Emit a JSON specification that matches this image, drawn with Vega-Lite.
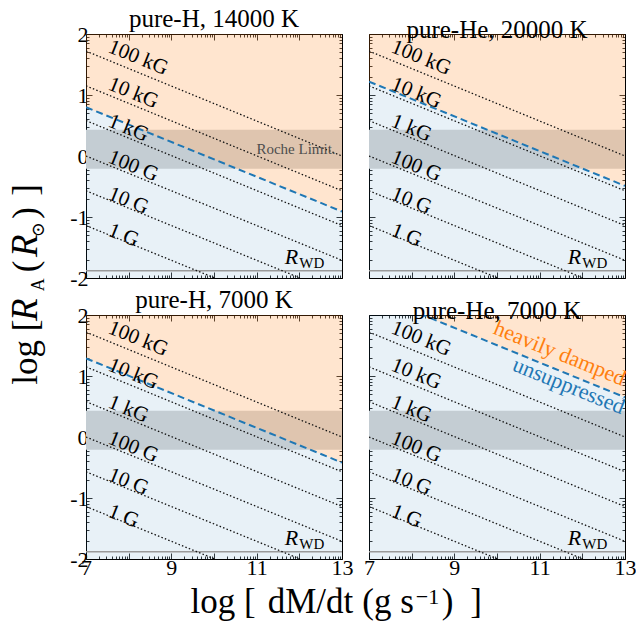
{
  "$schema": "https://vega.github.io/schema/vega-lite/v6.json",
  "background": "white",
  "padding": {"left": 6, "top": 7, "right": 5, "bottom": 5},
  "config": {
    "view": {"stroke": null},
    "axis": {"grid": false, "domainColor": "#000000", "domainWidth": 1, "tickColor": "#000000", "tickWidth": 0.8, "labelFont": "Liberation Serif, DejaVu Serif, serif", "labelFontSize": 22, "labelColor": "#000000", "labelPadding": 4, "labelFlush": false, "labelOverlap": false, "zindex": 1},
    "title": {"font": "Liberation Serif, DejaVu Serif, serif", "fontSize": 25, "fontWeight": "normal", "color": "#000000", "offset": -9, "baseline": "alphabetic", "frame": "group", "anchor": "middle"},
    "text": {"font": "Liberation Serif, DejaVu Serif, serif", "color": "#000000"}
  },
  "datasets": {
    "band": [{"lo": -0.21, "hi": 0.43}],
    "rwd": [{"y": -1.88}],
    "rwdR": [{"label": "R", "x": 11.66, "y": -1.77}],
    "rwdSub": [{"label": "WD", "x": 12.0, "y": -1.83}],
    "fieldlines": [
      {"B": "100 kG", "x": 7, "y": 1.72}, {"B": "100 kG", "x": 13, "y": 0.0},
      {"B": "10 kG", "x": 7, "y": 1.15}, {"B": "10 kG", "x": 13, "y": -0.57},
      {"B": "1 kG", "x": 7, "y": 0.58}, {"B": "1 kG", "x": 13, "y": -1.14},
      {"B": "100 G", "x": 7, "y": 0.0}, {"B": "100 G", "x": 13, "y": -1.71},
      {"B": "10 G", "x": 7, "y": -0.57}, {"B": "10 G", "x": 13, "y": -2.28},
      {"B": "1 G", "x": 7, "y": -1.14}, {"B": "1 G", "x": 13, "y": -2.85}
    ],
    "fieldlabels": [
      {"label": "100 kG", "x": 7.49, "y": 1.71},
      {"label": "10 kG", "x": 7.49, "y": 1.10},
      {"label": "1 kG", "x": 7.49, "y": 0.49},
      {"label": "100 G", "x": 7.49, "y": -0.10},
      {"label": "10 G", "x": 7.49, "y": -0.70},
      {"label": "1 G", "x": 7.49, "y": -1.30}
    ],
    "boundary": [
      {"panel": "TL", "x": 7, "y": 0.80}, {"panel": "TL", "x": 13, "y": -0.91},
      {"panel": "TR", "x": 7, "y": 1.22}, {"panel": "TR", "x": 13, "y": -0.49},
      {"panel": "BL", "x": 7, "y": 1.29}, {"panel": "BL", "x": 13, "y": -0.42},
      {"panel": "BR", "x": 7, "y": 2.36}, {"panel": "BR", "x": 13, "y": 0.65}
    ],
    "ytitleMain": [
      {"t": "log [", "x": 5.845, "y": -3.216},
      {"t": "(", "x": 5.845, "y": -1.809},
      {"t": ")", "x": 5.845, "y": -0.933},
      {"t": "]", "x": 5.845, "y": -0.556}
    ],
    "ytitleItal": [
      {"t": "R", "x": 5.845, "y": -2.52},
      {"t": "R", "x": 5.845, "y": -1.47}
    ],
    "ytitleSub": [
      {"t": "A", "x": 6.004, "y": -2.111},
      {"t": "⊙", "x": 6.004, "y": -1.21}
    ],
    "xtitleMain": [
      {"t": "log [", "x": 10.211, "y": -2.889},
      {"t": "dM/dt", "x": 12.262, "y": -2.889},
      {"t": "(g s", "x": 14.078, "y": -2.889},
      {"t": ")", "x": 15.473, "y": -2.889},
      {"t": "]", "x": 16.141, "y": -2.889}
    ],
    "xtitleSup": [
      {"t": "−1", "x": 15.004, "y": -2.741}
    ]
  },
  "columns": 2,
  "spacing": {"row": 37, "column": 27},
  "bounds": "flush",
  "concat": [
    {
      "title": {"text": "pure-H, 14000 K"},
      "width": 256, "height": 244,
      "resolve": {"axis": {"x": "independent", "y": "independent"}},
      "layer": [
        {"data": {"name": "band"}, "mark": {"type": "rect", "color": "#d7d7d7"},
         "encoding": {"y": {"field": "lo", "type": "quantitative", "scale": {"domain": [-2, 2], "nice": false, "zero": false}, "axis": null}, "y2": {"field": "hi"}}},
        {"data": {"name": "boundary"}, "transform": [{"filter": "datum.panel == 'TL'"}],
         "mark": {"type": "area", "color": "#1f77b4", "opacity": 0.1, "clip": true},
         "encoding": {"x": {"field": "x", "type": "quantitative", "scale": {"domain": [7, 13], "nice": false, "zero": false}, "axis": null},
                      "y": {"field": "y", "type": "quantitative", "scale": {"domain": [-2, 2], "nice": false, "zero": false}, "axis": null}, "y2": {"datum": -2}}},
        {"data": {"name": "boundary"}, "transform": [{"filter": "datum.panel == 'TL'"}],
         "mark": {"type": "area", "color": "#ff7f0e", "opacity": 0.2, "clip": true},
         "encoding": {"x": {"field": "x", "type": "quantitative", "scale": {"domain": [7, 13], "nice": false, "zero": false}, "axis": null},
                      "y": {"field": "y", "type": "quantitative", "scale": {"domain": [-2, 2], "nice": false, "zero": false}, "axis": null}, "y2": {"datum": 2}}},
        {"data": {"name": "rwd"}, "mark": {"type": "rule", "color": "#999999", "strokeWidth": 1.5},
         "encoding": {"y": {"field": "y", "type": "quantitative", "scale": {"domain": [-2, 2], "nice": false, "zero": false}, "axis": null}}},
        {"data": {"name": "fieldlines"}, "mark": {"type": "line", "color": "#111111", "strokeWidth": 1.3, "strokeDash": [1.5, 2.2], "clip": true},
         "encoding": {"x": {"field": "x", "type": "quantitative", "scale": {"domain": [7, 13], "nice": false, "zero": false},
                            "axis": {"orient": "bottom", "title": null, "values": [7,7.301,7.477,7.602,7.699,7.778,7.845,7.903,7.954,8,8.301,8.477,8.602,8.699,8.778,8.845,8.903,8.954,9,9.301,9.477,9.602,9.699,9.778,9.845,9.903,9.954,10,10.301,10.477,10.602,10.699,10.778,10.845,10.903,10.954,11,11.301,11.477,11.602,11.699,11.778,11.845,11.903,11.954,12,12.301,12.477,12.602,12.699,12.778,12.845,12.903,12.954,13], "tickSize": {"condition": {"test": "abs(datum.value-round(datum.value))<0.01", "value": -6}, "value": -3}, "labels": false}},
                      "y": {"field": "y", "type": "quantitative", "scale": {"domain": [-2, 2], "nice": false, "zero": false},
                            "axis": {"orient": "left", "title": null, "values": [-2,-1.699,-1.523,-1.398,-1.301,-1.222,-1.155,-1.097,-1.046,-1,-0.699,-0.523,-0.398,-0.301,-0.222,-0.155,-0.097,-0.046,0,0.301,0.477,0.602,0.699,0.778,0.845,0.903,0.954,1,1.301,1.477,1.602,1.699,1.778,1.845,1.903,1.954,2], "tickSize": {"condition": {"test": "abs(datum.value-round(datum.value))<0.01", "value": -6}, "value": -3}, "labelExpr": "abs(datum.value-round(datum.value))<0.01 ? '' + round(datum.value) : ''"}},
                      "detail": {"field": "B"}}},
        {"data": {"name": "boundary"}, "transform": [{"filter": "datum.panel == 'TL'"}],
         "mark": {"type": "line", "color": "#1f77b4", "strokeWidth": 2, "strokeDash": [7, 4], "clip": true},
         "encoding": {"x": {"field": "x", "type": "quantitative", "scale": {"domain": [7, 13], "nice": false, "zero": false},
                            "axis": {"orient": "top", "title": null, "values": [7,7.301,7.477,7.602,7.699,7.778,7.845,7.903,7.954,8,8.301,8.477,8.602,8.699,8.778,8.845,8.903,8.954,9,9.301,9.477,9.602,9.699,9.778,9.845,9.903,9.954,10,10.301,10.477,10.602,10.699,10.778,10.845,10.903,10.954,11,11.301,11.477,11.602,11.699,11.778,11.845,11.903,11.954,12,12.301,12.477,12.602,12.699,12.778,12.845,12.903,12.954,13], "tickSize": {"condition": {"test": "abs(datum.value-round(datum.value))<0.01", "value": -6}, "value": -3}, "labels": false}},
                      "y": {"field": "y", "type": "quantitative", "scale": {"domain": [-2, 2], "nice": false, "zero": false},
                            "axis": {"orient": "right", "title": null, "values": [-2,-1.699,-1.523,-1.398,-1.301,-1.222,-1.155,-1.097,-1.046,-1,-0.699,-0.523,-0.398,-0.301,-0.222,-0.155,-0.097,-0.046,0,0.301,0.477,0.602,0.699,0.778,0.845,0.903,0.954,1,1.301,1.477,1.602,1.699,1.778,1.845,1.903,1.954,2], "tickSize": {"condition": {"test": "abs(datum.value-round(datum.value))<0.01", "value": -6}, "value": -3}, "labels": false}}}},
        {"data": {"name": "fieldlabels"}, "mark": {"type": "text", "align": "left", "baseline": "alphabetic", "angle": 22, "fontSize": 21},
         "encoding": {"x": {"field": "x", "type": "quantitative", "scale": {"domain": [7, 13], "nice": false, "zero": false}, "axis": null},
                      "y": {"field": "y", "type": "quantitative", "scale": {"domain": [-2, 2], "nice": false, "zero": false}, "axis": null}, "text": {"field": "label"}}},
        {"data": {"name": "rwdR"}, "mark": {"type": "text", "align": "left", "baseline": "alphabetic", "fontSize": 22, "fontStyle": "italic"},
         "encoding": {"x": {"field": "x", "type": "quantitative", "scale": {"domain": [7, 13], "nice": false, "zero": false}, "axis": null},
                      "y": {"field": "y", "type": "quantitative", "scale": {"domain": [-2, 2], "nice": false, "zero": false}, "axis": null}, "text": {"field": "label"}}},
        {"data": {"name": "rwdSub"}, "mark": {"type": "text", "align": "left", "baseline": "alphabetic", "fontSize": 15},
         "encoding": {"x": {"field": "x", "type": "quantitative", "scale": {"domain": [7, 13], "nice": false, "zero": false}, "axis": null},
                      "y": {"field": "y", "type": "quantitative", "scale": {"domain": [-2, 2], "nice": false, "zero": false}, "axis": null}, "text": {"field": "label"}}},
        {"data": {"values": [{"label": "Roche Limit.", "x": 12.85, "y": 0.03}]}, "mark": {"type": "text", "align": "right", "baseline": "alphabetic", "fontSize": 15, "color": "#4d4d4d"},
         "encoding": {"x": {"field": "x", "type": "quantitative", "scale": {"domain": [7, 13], "nice": false, "zero": false}, "axis": null},
                      "y": {"field": "y", "type": "quantitative", "scale": {"domain": [-2, 2], "nice": false, "zero": false}, "axis": null}, "text": {"field": "label"}}},
        {"data": {"name": "ytitleMain"}, "mark": {"type": "text", "align": "center", "baseline": "alphabetic", "angle": 270, "fontSize": 35},
         "encoding": {"x": {"field": "x", "type": "quantitative", "scale": {"domain": [7, 13], "nice": false, "zero": false}, "axis": null},
                      "y": {"field": "y", "type": "quantitative", "scale": {"domain": [-2, 2], "nice": false, "zero": false}, "axis": null}, "text": {"field": "t"}}},
        {"data": {"name": "ytitleItal"}, "mark": {"type": "text", "align": "center", "baseline": "alphabetic", "angle": 270, "fontSize": 37, "fontStyle": "italic"},
         "encoding": {"x": {"field": "x", "type": "quantitative", "scale": {"domain": [7, 13], "nice": false, "zero": false}, "axis": null},
                      "y": {"field": "y", "type": "quantitative", "scale": {"domain": [-2, 2], "nice": false, "zero": false}, "axis": null}, "text": {"field": "t"}}},
        {"data": {"name": "ytitleSub"}, "mark": {"type": "text", "align": "center", "baseline": "alphabetic", "angle": 270, "fontSize": 18},
         "encoding": {"x": {"field": "x", "type": "quantitative", "scale": {"domain": [7, 13], "nice": false, "zero": false}, "axis": null},
                      "y": {"field": "y", "type": "quantitative", "scale": {"domain": [-2, 2], "nice": false, "zero": false}, "axis": null}, "text": {"field": "t"}}}
      ]
    },
    {
      "title": {"text": "pure-He, 20000 K"},
      "width": 256, "height": 244,
      "resolve": {"axis": {"x": "independent", "y": "independent"}},
      "layer": [
        {"data": {"name": "band"}, "mark": {"type": "rect", "color": "#d7d7d7"},
         "encoding": {"y": {"field": "lo", "type": "quantitative", "scale": {"domain": [-2, 2], "nice": false, "zero": false}, "axis": null}, "y2": {"field": "hi"}}},
        {"data": {"name": "boundary"}, "transform": [{"filter": "datum.panel == 'TR'"}],
         "mark": {"type": "area", "color": "#1f77b4", "opacity": 0.1, "clip": true},
         "encoding": {"x": {"field": "x", "type": "quantitative", "scale": {"domain": [7, 13], "nice": false, "zero": false}, "axis": null},
                      "y": {"field": "y", "type": "quantitative", "scale": {"domain": [-2, 2], "nice": false, "zero": false}, "axis": null}, "y2": {"datum": -2}}},
        {"data": {"name": "boundary"}, "transform": [{"filter": "datum.panel == 'TR'"}],
         "mark": {"type": "area", "color": "#ff7f0e", "opacity": 0.2, "clip": true},
         "encoding": {"x": {"field": "x", "type": "quantitative", "scale": {"domain": [7, 13], "nice": false, "zero": false}, "axis": null},
                      "y": {"field": "y", "type": "quantitative", "scale": {"domain": [-2, 2], "nice": false, "zero": false}, "axis": null}, "y2": {"datum": 2}}},
        {"data": {"name": "rwd"}, "mark": {"type": "rule", "color": "#999999", "strokeWidth": 1.5},
         "encoding": {"y": {"field": "y", "type": "quantitative", "scale": {"domain": [-2, 2], "nice": false, "zero": false}, "axis": null}}},
        {"data": {"name": "fieldlines"}, "mark": {"type": "line", "color": "#111111", "strokeWidth": 1.3, "strokeDash": [1.5, 2.2], "clip": true},
         "encoding": {"x": {"field": "x", "type": "quantitative", "scale": {"domain": [7, 13], "nice": false, "zero": false},
                            "axis": {"orient": "bottom", "title": null, "values": [7,7.301,7.477,7.602,7.699,7.778,7.845,7.903,7.954,8,8.301,8.477,8.602,8.699,8.778,8.845,8.903,8.954,9,9.301,9.477,9.602,9.699,9.778,9.845,9.903,9.954,10,10.301,10.477,10.602,10.699,10.778,10.845,10.903,10.954,11,11.301,11.477,11.602,11.699,11.778,11.845,11.903,11.954,12,12.301,12.477,12.602,12.699,12.778,12.845,12.903,12.954,13], "tickSize": {"condition": {"test": "abs(datum.value-round(datum.value))<0.01", "value": -6}, "value": -3}, "labels": false}},
                      "y": {"field": "y", "type": "quantitative", "scale": {"domain": [-2, 2], "nice": false, "zero": false},
                            "axis": {"orient": "left", "title": null, "values": [-2,-1.699,-1.523,-1.398,-1.301,-1.222,-1.155,-1.097,-1.046,-1,-0.699,-0.523,-0.398,-0.301,-0.222,-0.155,-0.097,-0.046,0,0.301,0.477,0.602,0.699,0.778,0.845,0.903,0.954,1,1.301,1.477,1.602,1.699,1.778,1.845,1.903,1.954,2], "tickSize": {"condition": {"test": "abs(datum.value-round(datum.value))<0.01", "value": -6}, "value": -3}, "labels": false}},
                      "detail": {"field": "B"}}},
        {"data": {"name": "boundary"}, "transform": [{"filter": "datum.panel == 'TR'"}],
         "mark": {"type": "line", "color": "#1f77b4", "strokeWidth": 2, "strokeDash": [7, 4], "clip": true},
         "encoding": {"x": {"field": "x", "type": "quantitative", "scale": {"domain": [7, 13], "nice": false, "zero": false},
                            "axis": {"orient": "top", "title": null, "values": [7,7.301,7.477,7.602,7.699,7.778,7.845,7.903,7.954,8,8.301,8.477,8.602,8.699,8.778,8.845,8.903,8.954,9,9.301,9.477,9.602,9.699,9.778,9.845,9.903,9.954,10,10.301,10.477,10.602,10.699,10.778,10.845,10.903,10.954,11,11.301,11.477,11.602,11.699,11.778,11.845,11.903,11.954,12,12.301,12.477,12.602,12.699,12.778,12.845,12.903,12.954,13], "tickSize": {"condition": {"test": "abs(datum.value-round(datum.value))<0.01", "value": -6}, "value": -3}, "labels": false}},
                      "y": {"field": "y", "type": "quantitative", "scale": {"domain": [-2, 2], "nice": false, "zero": false},
                            "axis": {"orient": "right", "title": null, "values": [-2,-1.699,-1.523,-1.398,-1.301,-1.222,-1.155,-1.097,-1.046,-1,-0.699,-0.523,-0.398,-0.301,-0.222,-0.155,-0.097,-0.046,0,0.301,0.477,0.602,0.699,0.778,0.845,0.903,0.954,1,1.301,1.477,1.602,1.699,1.778,1.845,1.903,1.954,2], "tickSize": {"condition": {"test": "abs(datum.value-round(datum.value))<0.01", "value": -6}, "value": -3}, "labels": false}}}},
        {"data": {"name": "fieldlabels"}, "mark": {"type": "text", "align": "left", "baseline": "alphabetic", "angle": 22, "fontSize": 21},
         "encoding": {"x": {"field": "x", "type": "quantitative", "scale": {"domain": [7, 13], "nice": false, "zero": false}, "axis": null},
                      "y": {"field": "y", "type": "quantitative", "scale": {"domain": [-2, 2], "nice": false, "zero": false}, "axis": null}, "text": {"field": "label"}}},
        {"data": {"name": "rwdR"}, "mark": {"type": "text", "align": "left", "baseline": "alphabetic", "fontSize": 22, "fontStyle": "italic"},
         "encoding": {"x": {"field": "x", "type": "quantitative", "scale": {"domain": [7, 13], "nice": false, "zero": false}, "axis": null},
                      "y": {"field": "y", "type": "quantitative", "scale": {"domain": [-2, 2], "nice": false, "zero": false}, "axis": null}, "text": {"field": "label"}}},
        {"data": {"name": "rwdSub"}, "mark": {"type": "text", "align": "left", "baseline": "alphabetic", "fontSize": 15},
         "encoding": {"x": {"field": "x", "type": "quantitative", "scale": {"domain": [7, 13], "nice": false, "zero": false}, "axis": null},
                      "y": {"field": "y", "type": "quantitative", "scale": {"domain": [-2, 2], "nice": false, "zero": false}, "axis": null}, "text": {"field": "label"}}}
      ]
    },
    {
      "title": {"text": "pure-H, 7000 K"},
      "width": 256, "height": 244,
      "resolve": {"axis": {"x": "independent", "y": "independent"}},
      "layer": [
        {"data": {"name": "band"}, "mark": {"type": "rect", "color": "#d7d7d7"},
         "encoding": {"y": {"field": "lo", "type": "quantitative", "scale": {"domain": [-2, 2], "nice": false, "zero": false}, "axis": null}, "y2": {"field": "hi"}}},
        {"data": {"name": "boundary"}, "transform": [{"filter": "datum.panel == 'BL'"}],
         "mark": {"type": "area", "color": "#1f77b4", "opacity": 0.1, "clip": true},
         "encoding": {"x": {"field": "x", "type": "quantitative", "scale": {"domain": [7, 13], "nice": false, "zero": false}, "axis": null},
                      "y": {"field": "y", "type": "quantitative", "scale": {"domain": [-2, 2], "nice": false, "zero": false}, "axis": null}, "y2": {"datum": -2}}},
        {"data": {"name": "boundary"}, "transform": [{"filter": "datum.panel == 'BL'"}],
         "mark": {"type": "area", "color": "#ff7f0e", "opacity": 0.2, "clip": true},
         "encoding": {"x": {"field": "x", "type": "quantitative", "scale": {"domain": [7, 13], "nice": false, "zero": false}, "axis": null},
                      "y": {"field": "y", "type": "quantitative", "scale": {"domain": [-2, 2], "nice": false, "zero": false}, "axis": null}, "y2": {"datum": 2}}},
        {"data": {"name": "rwd"}, "mark": {"type": "rule", "color": "#999999", "strokeWidth": 1.5},
         "encoding": {"y": {"field": "y", "type": "quantitative", "scale": {"domain": [-2, 2], "nice": false, "zero": false}, "axis": null}}},
        {"data": {"name": "fieldlines"}, "mark": {"type": "line", "color": "#111111", "strokeWidth": 1.3, "strokeDash": [1.5, 2.2], "clip": true},
         "encoding": {"x": {"field": "x", "type": "quantitative", "scale": {"domain": [7, 13], "nice": false, "zero": false},
                            "axis": {"orient": "bottom", "title": null, "values": [7,7.301,7.477,7.602,7.699,7.778,7.845,7.903,7.954,8,8.301,8.477,8.602,8.699,8.778,8.845,8.903,8.954,9,9.301,9.477,9.602,9.699,9.778,9.845,9.903,9.954,10,10.301,10.477,10.602,10.699,10.778,10.845,10.903,10.954,11,11.301,11.477,11.602,11.699,11.778,11.845,11.903,11.954,12,12.301,12.477,12.602,12.699,12.778,12.845,12.903,12.954,13], "tickSize": {"condition": {"test": "abs(datum.value-round(datum.value))<0.01", "value": -6}, "value": -3}, "labelExpr": "abs(datum.value-round(datum.value))<0.01 && round(datum.value)%2==1 ? '' + round(datum.value) : ''"}},
                      "y": {"field": "y", "type": "quantitative", "scale": {"domain": [-2, 2], "nice": false, "zero": false},
                            "axis": {"orient": "left", "title": null, "values": [-2,-1.699,-1.523,-1.398,-1.301,-1.222,-1.155,-1.097,-1.046,-1,-0.699,-0.523,-0.398,-0.301,-0.222,-0.155,-0.097,-0.046,0,0.301,0.477,0.602,0.699,0.778,0.845,0.903,0.954,1,1.301,1.477,1.602,1.699,1.778,1.845,1.903,1.954,2], "tickSize": {"condition": {"test": "abs(datum.value-round(datum.value))<0.01", "value": -6}, "value": -3}, "labelExpr": "abs(datum.value-round(datum.value))<0.01 ? '' + round(datum.value) : ''"}},
                      "detail": {"field": "B"}}},
        {"data": {"name": "boundary"}, "transform": [{"filter": "datum.panel == 'BL'"}],
         "mark": {"type": "line", "color": "#1f77b4", "strokeWidth": 2, "strokeDash": [7, 4], "clip": true},
         "encoding": {"x": {"field": "x", "type": "quantitative", "scale": {"domain": [7, 13], "nice": false, "zero": false},
                            "axis": {"orient": "top", "title": null, "values": [7,7.301,7.477,7.602,7.699,7.778,7.845,7.903,7.954,8,8.301,8.477,8.602,8.699,8.778,8.845,8.903,8.954,9,9.301,9.477,9.602,9.699,9.778,9.845,9.903,9.954,10,10.301,10.477,10.602,10.699,10.778,10.845,10.903,10.954,11,11.301,11.477,11.602,11.699,11.778,11.845,11.903,11.954,12,12.301,12.477,12.602,12.699,12.778,12.845,12.903,12.954,13], "tickSize": {"condition": {"test": "abs(datum.value-round(datum.value))<0.01", "value": -6}, "value": -3}, "labels": false}},
                      "y": {"field": "y", "type": "quantitative", "scale": {"domain": [-2, 2], "nice": false, "zero": false},
                            "axis": {"orient": "right", "title": null, "values": [-2,-1.699,-1.523,-1.398,-1.301,-1.222,-1.155,-1.097,-1.046,-1,-0.699,-0.523,-0.398,-0.301,-0.222,-0.155,-0.097,-0.046,0,0.301,0.477,0.602,0.699,0.778,0.845,0.903,0.954,1,1.301,1.477,1.602,1.699,1.778,1.845,1.903,1.954,2], "tickSize": {"condition": {"test": "abs(datum.value-round(datum.value))<0.01", "value": -6}, "value": -3}, "labels": false}}}},
        {"data": {"name": "fieldlabels"}, "mark": {"type": "text", "align": "left", "baseline": "alphabetic", "angle": 22, "fontSize": 21},
         "encoding": {"x": {"field": "x", "type": "quantitative", "scale": {"domain": [7, 13], "nice": false, "zero": false}, "axis": null},
                      "y": {"field": "y", "type": "quantitative", "scale": {"domain": [-2, 2], "nice": false, "zero": false}, "axis": null}, "text": {"field": "label"}}},
        {"data": {"name": "rwdR"}, "mark": {"type": "text", "align": "left", "baseline": "alphabetic", "fontSize": 22, "fontStyle": "italic"},
         "encoding": {"x": {"field": "x", "type": "quantitative", "scale": {"domain": [7, 13], "nice": false, "zero": false}, "axis": null},
                      "y": {"field": "y", "type": "quantitative", "scale": {"domain": [-2, 2], "nice": false, "zero": false}, "axis": null}, "text": {"field": "label"}}},
        {"data": {"name": "rwdSub"}, "mark": {"type": "text", "align": "left", "baseline": "alphabetic", "fontSize": 15},
         "encoding": {"x": {"field": "x", "type": "quantitative", "scale": {"domain": [7, 13], "nice": false, "zero": false}, "axis": null},
                      "y": {"field": "y", "type": "quantitative", "scale": {"domain": [-2, 2], "nice": false, "zero": false}, "axis": null}, "text": {"field": "label"}}},
        {"data": {"name": "xtitleMain"}, "mark": {"type": "text", "align": "center", "baseline": "alphabetic", "fontSize": 35},
         "encoding": {"x": {"field": "x", "type": "quantitative", "scale": {"domain": [7, 13], "nice": false, "zero": false}, "axis": null},
                      "y": {"field": "y", "type": "quantitative", "scale": {"domain": [-2, 2], "nice": false, "zero": false}, "axis": null}, "text": {"field": "t"}}},
        {"data": {"name": "xtitleSup"}, "mark": {"type": "text", "align": "center", "baseline": "alphabetic", "fontSize": 22},
         "encoding": {"x": {"field": "x", "type": "quantitative", "scale": {"domain": [7, 13], "nice": false, "zero": false}, "axis": null},
                      "y": {"field": "y", "type": "quantitative", "scale": {"domain": [-2, 2], "nice": false, "zero": false}, "axis": null}, "text": {"field": "t"}}}
      ]
    },
    {
      "title": {"text": "pure-He, 7000 K"},
      "width": 256, "height": 244,
      "resolve": {"axis": {"x": "independent", "y": "independent"}},
      "layer": [
        {"data": {"name": "band"}, "mark": {"type": "rect", "color": "#d7d7d7"},
         "encoding": {"y": {"field": "lo", "type": "quantitative", "scale": {"domain": [-2, 2], "nice": false, "zero": false}, "axis": null}, "y2": {"field": "hi"}}},
        {"data": {"name": "boundary"}, "transform": [{"filter": "datum.panel == 'BR'"}],
         "mark": {"type": "area", "color": "#1f77b4", "opacity": 0.1, "clip": true},
         "encoding": {"x": {"field": "x", "type": "quantitative", "scale": {"domain": [7, 13], "nice": false, "zero": false}, "axis": null},
                      "y": {"field": "y", "type": "quantitative", "scale": {"domain": [-2, 2], "nice": false, "zero": false}, "axis": null}, "y2": {"datum": -2}}},
        {"data": {"name": "boundary"}, "transform": [{"filter": "datum.panel == 'BR'"}],
         "mark": {"type": "area", "color": "#ff7f0e", "opacity": 0.2, "clip": true},
         "encoding": {"x": {"field": "x", "type": "quantitative", "scale": {"domain": [7, 13], "nice": false, "zero": false}, "axis": null},
                      "y": {"field": "y", "type": "quantitative", "scale": {"domain": [-2, 2], "nice": false, "zero": false}, "axis": null}, "y2": {"datum": 2}}},
        {"data": {"name": "rwd"}, "mark": {"type": "rule", "color": "#999999", "strokeWidth": 1.5},
         "encoding": {"y": {"field": "y", "type": "quantitative", "scale": {"domain": [-2, 2], "nice": false, "zero": false}, "axis": null}}},
        {"data": {"name": "fieldlines"}, "mark": {"type": "line", "color": "#111111", "strokeWidth": 1.3, "strokeDash": [1.5, 2.2], "clip": true},
         "encoding": {"x": {"field": "x", "type": "quantitative", "scale": {"domain": [7, 13], "nice": false, "zero": false},
                            "axis": {"orient": "bottom", "title": null, "values": [7,7.301,7.477,7.602,7.699,7.778,7.845,7.903,7.954,8,8.301,8.477,8.602,8.699,8.778,8.845,8.903,8.954,9,9.301,9.477,9.602,9.699,9.778,9.845,9.903,9.954,10,10.301,10.477,10.602,10.699,10.778,10.845,10.903,10.954,11,11.301,11.477,11.602,11.699,11.778,11.845,11.903,11.954,12,12.301,12.477,12.602,12.699,12.778,12.845,12.903,12.954,13], "tickSize": {"condition": {"test": "abs(datum.value-round(datum.value))<0.01", "value": -6}, "value": -3}, "labelExpr": "abs(datum.value-round(datum.value))<0.01 && round(datum.value)%2==1 ? '' + round(datum.value) : ''"}},
                      "y": {"field": "y", "type": "quantitative", "scale": {"domain": [-2, 2], "nice": false, "zero": false},
                            "axis": {"orient": "left", "title": null, "values": [-2,-1.699,-1.523,-1.398,-1.301,-1.222,-1.155,-1.097,-1.046,-1,-0.699,-0.523,-0.398,-0.301,-0.222,-0.155,-0.097,-0.046,0,0.301,0.477,0.602,0.699,0.778,0.845,0.903,0.954,1,1.301,1.477,1.602,1.699,1.778,1.845,1.903,1.954,2], "tickSize": {"condition": {"test": "abs(datum.value-round(datum.value))<0.01", "value": -6}, "value": -3}, "labels": false}},
                      "detail": {"field": "B"}}},
        {"data": {"name": "boundary"}, "transform": [{"filter": "datum.panel == 'BR'"}],
         "mark": {"type": "line", "color": "#1f77b4", "strokeWidth": 2, "strokeDash": [7, 4], "clip": true},
         "encoding": {"x": {"field": "x", "type": "quantitative", "scale": {"domain": [7, 13], "nice": false, "zero": false},
                            "axis": {"orient": "top", "title": null, "values": [7,7.301,7.477,7.602,7.699,7.778,7.845,7.903,7.954,8,8.301,8.477,8.602,8.699,8.778,8.845,8.903,8.954,9,9.301,9.477,9.602,9.699,9.778,9.845,9.903,9.954,10,10.301,10.477,10.602,10.699,10.778,10.845,10.903,10.954,11,11.301,11.477,11.602,11.699,11.778,11.845,11.903,11.954,12,12.301,12.477,12.602,12.699,12.778,12.845,12.903,12.954,13], "tickSize": {"condition": {"test": "abs(datum.value-round(datum.value))<0.01", "value": -6}, "value": -3}, "labels": false}},
                      "y": {"field": "y", "type": "quantitative", "scale": {"domain": [-2, 2], "nice": false, "zero": false},
                            "axis": {"orient": "right", "title": null, "values": [-2,-1.699,-1.523,-1.398,-1.301,-1.222,-1.155,-1.097,-1.046,-1,-0.699,-0.523,-0.398,-0.301,-0.222,-0.155,-0.097,-0.046,0,0.301,0.477,0.602,0.699,0.778,0.845,0.903,0.954,1,1.301,1.477,1.602,1.699,1.778,1.845,1.903,1.954,2], "tickSize": {"condition": {"test": "abs(datum.value-round(datum.value))<0.01", "value": -6}, "value": -3}, "labels": false}}}},
        {"data": {"name": "fieldlabels"}, "mark": {"type": "text", "align": "left", "baseline": "alphabetic", "angle": 22, "fontSize": 21},
         "encoding": {"x": {"field": "x", "type": "quantitative", "scale": {"domain": [7, 13], "nice": false, "zero": false}, "axis": null},
                      "y": {"field": "y", "type": "quantitative", "scale": {"domain": [-2, 2], "nice": false, "zero": false}, "axis": null}, "text": {"field": "label"}}},
        {"data": {"name": "rwdR"}, "mark": {"type": "text", "align": "left", "baseline": "alphabetic", "fontSize": 22, "fontStyle": "italic"},
         "encoding": {"x": {"field": "x", "type": "quantitative", "scale": {"domain": [7, 13], "nice": false, "zero": false}, "axis": null},
                      "y": {"field": "y", "type": "quantitative", "scale": {"domain": [-2, 2], "nice": false, "zero": false}, "axis": null}, "text": {"field": "label"}}},
        {"data": {"name": "rwdSub"}, "mark": {"type": "text", "align": "left", "baseline": "alphabetic", "fontSize": 15},
         "encoding": {"x": {"field": "x", "type": "quantitative", "scale": {"domain": [7, 13], "nice": false, "zero": false}, "axis": null},
                      "y": {"field": "y", "type": "quantitative", "scale": {"domain": [-2, 2], "nice": false, "zero": false}, "axis": null}, "text": {"field": "label"}}},
        {"data": {"values": [{"label": "heavily damped", "x": 12.93, "y": 0.84}]}, "mark": {"type": "text", "align": "right", "baseline": "alphabetic", "angle": 22, "fontSize": 22, "color": "#ff7f0e"},
         "encoding": {"x": {"field": "x", "type": "quantitative", "scale": {"domain": [7, 13], "nice": false, "zero": false}, "axis": null},
                      "y": {"field": "y", "type": "quantitative", "scale": {"domain": [-2, 2], "nice": false, "zero": false}, "axis": null}, "text": {"field": "label"}}},
        {"data": {"values": [{"label": "unsuppressed", "x": 12.91, "y": 0.37}]}, "mark": {"type": "text", "align": "right", "baseline": "alphabetic", "angle": 22, "fontSize": 22, "color": "#1f77b4"},
         "encoding": {"x": {"field": "x", "type": "quantitative", "scale": {"domain": [7, 13], "nice": false, "zero": false}, "axis": null},
                      "y": {"field": "y", "type": "quantitative", "scale": {"domain": [-2, 2], "nice": false, "zero": false}, "axis": null}, "text": {"field": "label"}}}
      ]
    }
  ]
}
